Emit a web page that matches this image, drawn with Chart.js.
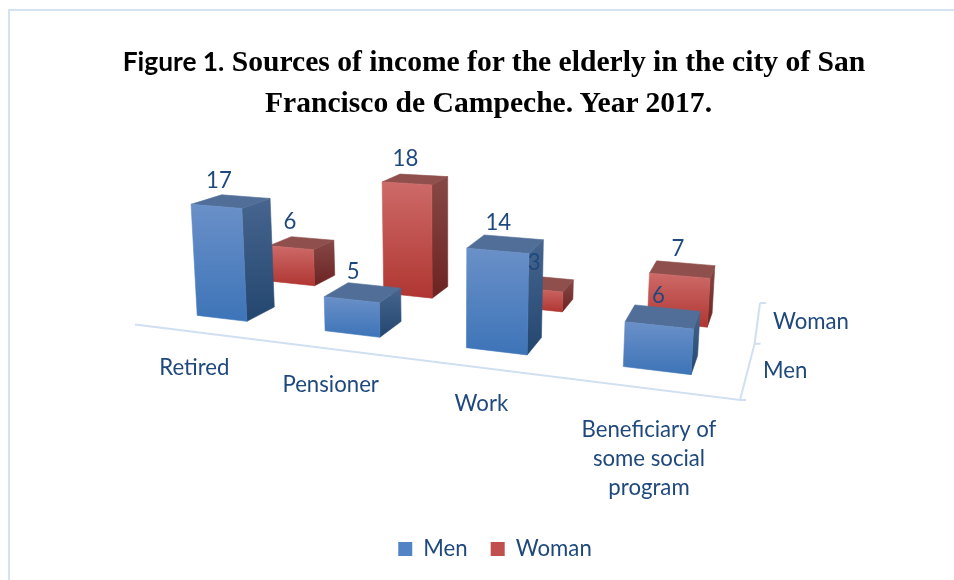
<!DOCTYPE html>
<html>
<head>
<meta charset="utf-8">
<title>Sources of income</title>
<script src="https://cdn.jsdelivr.net/npm/chart.js@4"></script>
<style>
    html, body { margin: 0; padding: 0; background: #fff; }
    #wrap { position: relative; width: 954px; height: 580px; overflow: hidden; }
    #frame { position: absolute; left: 8px; top: 9px; right: -4px; bottom: -4px; border-top: 2px solid #d5e2f2; border-left: 2px solid #d5e2f2; }
    .title { position: absolute; left: 0; text-align: center; font: bold 29.6px/41px "Liberation Serif", serif; color: #000; white-space: nowrap; }
    .title span { font-family: Lato, sans-serif; font-size: 26.3px; }
    canvas { position: absolute; left: 0; top: 0; }
</style>
</head>
<body>
<div id="wrap">
    <canvas id="incomeChart" width="954" height="580"></canvas>
    <div id="frame"></div>
    <div class="title" style="top:41px;width:988px"><span>Figure 1.</span> Sources of income for the elderly in the city of San</div>
    <div class="title" style="top:82px;width:977px">Francisco de Campeche. Year 2017.</div>
</div>
<script>
const categories = ['Retired', 'Pensioner', 'Work', ['Beneficiary of', 'some social', 'program']];
const seriesNames = ['Men', 'Woman'];
const menValues = [17, 5, 14, 6];
const womanValues = [6, 18, 3, 7];

const TEXT_COLOR = '#1f497d';
const AXIS_COLOR = '#d0dff1';
const FONT = '22.2px Lato, sans-serif';

// floor corners of the 3d box on screen, p<t><v>
const P00 = [131, 324], P10 = [740, 400], P01 = [285, 258], P11 = [760, 303];
const PERSPECTIVE = 0.187;
const LEAN = 0.00022, LEAN_X = 450;
// depth band of each series on the floor (0 = front, 1 = back)
const ROWS = [[0.196, 0.40], [0.70, 0.85]];

const FACES = [
    { front: ['#6a90c8', '#3d74b8'], side: ['#46658f', '#23466f'], top: '#506e97' },
    { front: ['#cd6a68', '#b03632'], side: ['#864846', '#6c2322'], top: '#8f4f4d' }
];

function warp(n) {
    return n * (1 - PERSPECTIVE) / (1 - PERSPECTIVE * n);
}

function floorPoint(t, v) {
    const lx = P00[0] + (P01[0] - P00[0]) * v, ly = P00[1] + (P01[1] - P00[1]) * v;
    const rx = P10[0] + (P11[0] - P10[0]) * v, ry = P10[1] + (P11[1] - P10[1]) * v;
    return [lx + (rx - lx) * t, ly + (ry - ly) * t];
}

// n: 0-1 across plot, v: depth, h: 0-1 of the y scale
function project(n, v, h) {
    const t = warp(n);
    const p = floorPoint(t, v);
    const px = h * (134 + 25 * t - 25 * v);
    return [p[0] + px * (p[0] - LEAN_X) * LEAN, p[1] - px];
}

function fillFace(ctx, pts, a, b) {
    ctx.beginPath();
    pts.forEach((p, i) => i ? ctx.lineTo(p[0], p[1]) : ctx.moveTo(p[0], p[1]));
    ctx.closePath();
    if (b) {
        const g = ctx.createLinearGradient(0, Math.min(pts[0][1], pts[3][1]), 0, Math.max(pts[1][1], pts[2][1]));
        g.addColorStop(0, a);
        g.addColorStop(1, b);
        ctx.fillStyle = g;
    } else {
        ctx.fillStyle = a;
    }
    ctx.fill();
    // hides the seam between faces
    ctx.strokeStyle = ctx.fillStyle;
    ctx.lineWidth = 0.6;
    ctx.stroke();
}

function drawAxes(chart, ctx) {
    ctx.strokeStyle = AXIS_COLOR;
    ctx.lineWidth = 2;
    const a = floorPoint(0, 0), b = floorPoint(1, 0), mid = floorPoint(1, 0.58), c = floorPoint(1, 1);
    ctx.beginPath();
    ctx.moveTo(a[0] + 4, a[1] + 0.5);
    ctx.lineTo(b[0], b[1]);
    ctx.lineTo(mid[0] + 3, mid[1]);
    ctx.lineTo(c[0], c[1]);
    ctx.stroke();
    [b, [mid[0] + 3, mid[1]], c].forEach(p => {
        ctx.beginPath();
        ctx.moveTo(p[0], p[1]);
        ctx.lineTo(p[0] + 6, p[1]);
        ctx.stroke();
    });
}

function drawLabels(chart, ctx) {
    const area = chart.chartArea;
    const xScale = chart.scales.x;
    ctx.fillStyle = TEXT_COLOR;
    ctx.font = FONT;
    ctx.textBaseline = 'middle';
    ctx.textAlign = 'center';
    categories.forEach((label, i) => {
        const n = (xScale.getPixelForValue(i) - area.left) / area.width;
        const p = floorPoint(warp(n), 0);
        const lines = Array.isArray(label) ? label : [label];
        const gap = lines.length > 1 ? 41 : 36;
        lines.forEach((line, k) => ctx.fillText(line, p[0], p[1] + gap + k * 29));
    });
    ctx.textAlign = 'left';
    seriesNames.forEach((name, i) => {
        const p = floorPoint(1, i ? 0.75 : 0.25);
        ctx.fillText(name, p[0] + 18, p[1] - 5);
    });
}

const box3d = {
    id: 'box3d',
    beforeDatasetsDraw(chart) {
        const ctx = chart.ctx;
        const area = chart.chartArea;
        const yScale = chart.scales.y;
        ctx.save();
        drawAxes(chart, ctx);
        drawLabels(chart, ctx);
        const valueLabels = [];
        // back row first so the front row covers it
        for (let d = chart.data.datasets.length - 1; d >= 0; d--) {
            const meta = chart.getDatasetMeta(d);
            const row = ROWS[d], face = FACES[d];
            meta.data.forEach((bar, i) => {
                const n0 = (bar.x - bar.width / 2 - area.left) / area.width;
                const n1 = (bar.x + bar.width / 2 - area.left) / area.width;
                const h = (bar.base - bar.y) / (yScale.bottom - yScale.top);
                const v0 = row[0], v1 = row[1];
                fillFace(ctx, [project(n1, v0, h), project(n1, v0, 0), project(n1, v1, 0), project(n1, v1, h)], face.side[0], face.side[1]);
                fillFace(ctx, [project(n0, v0, h), project(n1, v0, h), project(n1, v1, h), project(n0, v1, h)], face.top);
                fillFace(ctx, [project(n0, v0, h), project(n0, v0, 0), project(n1, v0, 0), project(n1, v0, h)], face.front[0], face.front[1]);
                const top = project((n0 + n1) / 2, (v0 + v1) / 2, h);
                valueLabels.push({ text: chart.data.datasets[d].data[i], x: top[0] - 13 + 10 * warp((n0 + n1) / 2), y: top[1] - 21 });
            });
        }
        ctx.fillStyle = TEXT_COLOR;
        ctx.font = FONT;
        ctx.textAlign = 'center';
        ctx.textBaseline = 'middle';
        valueLabels.forEach(l => ctx.fillText(l.text, l.x, l.y));
        ctx.restore();
        return false;
    }
};

new Chart(document.getElementById('incomeChart').getContext('2d'), {
    type: 'bar',
    data: {
        labels: categories,
        datasets: [
            { label: seriesNames[0], data: menValues, backgroundColor: '#5283c5' },
            { label: seriesNames[1], data: womanValues, backgroundColor: '#c0504d' }
        ]
    },
    options: {
        responsive: false,
        animation: false,
        grouped: false,
        categoryPercentage: 1,
        barPercentage: 0.4,
        layout: { padding: { left: 36, bottom: 10 } },
        scales: {
            x: { display: false },
            y: { display: false, min: 0, max: 20 }
        },
        plugins: {
            tooltip: { enabled: false },
            legend: {
                position: 'bottom',
                labels: {
                    boxWidth: 14,
                    boxHeight: 14,
                    padding: 23,
                    color: TEXT_COLOR,
                    font: { family: 'Lato, sans-serif', size: 22.2 }
                }
            }
        }
    },
    plugins: [box3d]
});
</script>
</body>
</html>
